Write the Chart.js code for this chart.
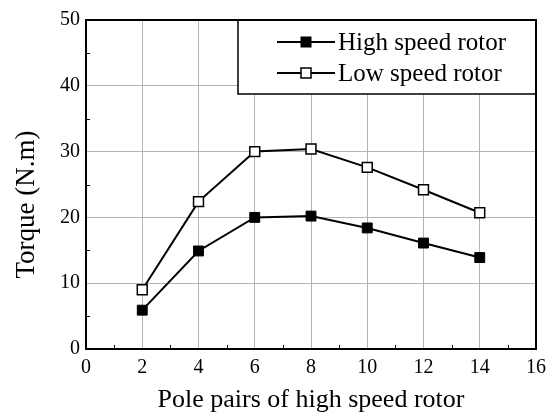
<!DOCTYPE html>
<html>
<head>
<meta charset="utf-8">
<script src="https://cdn.jsdelivr.net/npm/chart.js@4.4.1/dist/chart.umd.min.js"></script>
<style>
  html, body { margin: 0; padding: 0; background: #fff; }
  canvas { display: block; }
</style>
</head>
<body>
<canvas id="torqueChart" width="558" height="416"></canvas>
<script>
const polePairs = [2, 4, 6, 8, 10, 12, 14];
const highSpeed = [5.9, 14.9, 20.0, 20.2, 18.4, 16.1, 13.9];
const lowSpeed = [9.0, 22.4, 30.0, 30.4, 27.6, 24.2, 20.7];
const seriesNames = ["High speed rotor", "Low speed rotor"];
const xTicks = [0, 2, 4, 6, 8, 10, 12, 14, 16];
const yTicks = [0, 10, 20, 30, 40, 50];
const yTitle = "Torque (N.m)";

const serif = "'Liberation Serif', 'Times New Roman', serif";

const toPoints = function(values) {
  return polePairs.map(function(p, i) { return { x: p, y: values[i] }; });
};

// frame, inward minor ticks, y title and the boxed legend
const decorations = {
  id: "decorations",
  afterDraw: function(chart) {
    const ctx = chart.ctx;
    const area = chart.chartArea;
    const xs = chart.scales.x;
    const ys = chart.scales.y;
    ctx.save();
    ctx.strokeStyle = "#000";
    ctx.lineWidth = 1;
    for (let v = 1; v < 16; v += 2) {
      const px = Math.round(xs.getPixelForValue(v)) + 0.5;
      ctx.beginPath();
      ctx.moveTo(px, area.bottom);
      ctx.lineTo(px, area.bottom - 4);
      ctx.stroke();
    }
    for (let v = 5; v < 50; v += 10) {
      const py = Math.round(ys.getPixelForValue(v)) + 0.5;
      ctx.beginPath();
      ctx.moveTo(area.left, py);
      ctx.lineTo(area.left + 4, py);
      ctx.stroke();
    }

    // y axis title, sits a bit below the middle of the plot like the original
    ctx.save();
    ctx.translate(27, (area.top + area.bottom) / 2 + 20);
    ctx.rotate(-Math.PI / 2);
    ctx.font = "27px " + serif;
    ctx.fillStyle = "#000";
    ctx.textAlign = "center";
    ctx.textBaseline = "middle";
    ctx.fillText(yTitle, 0, 0);
    ctx.restore();

    // legend box
    const boxW = 298, boxH = 74;
    const bx = area.right - boxW, by = area.top;
    ctx.fillStyle = "#fff";
    ctx.fillRect(bx, by, boxW, boxH);
    ctx.lineWidth = 1.5;
    ctx.strokeRect(bx, by, boxW, boxH);

    ctx.font = "25px " + serif;
    ctx.textBaseline = "middle";
    ctx.textAlign = "left";
    chart.data.datasets.forEach(function(ds, i) {
      const cy = by + 22 + i * 31;
      ctx.strokeStyle = ds.borderColor;
      ctx.lineWidth = ds.borderWidth;
      ctx.beginPath();
      ctx.moveTo(bx + 39, cy);
      ctx.lineTo(bx + 97, cy);
      ctx.stroke();
      ctx.fillStyle = ds.pointBackgroundColor;
      ctx.fillRect(bx + 63, cy - 5, 10, 10);
      ctx.lineWidth = ds.pointBorderWidth;
      ctx.strokeRect(bx + 63, cy - 5, 10, 10);
      ctx.fillStyle = "#000";
      ctx.fillText(ds.label, bx + 100, cy + 1);
    });

    // outer frame
    ctx.strokeStyle = "#000";
    ctx.lineWidth = 2;
    ctx.strokeRect(area.left, area.top, area.right - area.left, area.bottom - area.top);
    ctx.restore();
  }
};

const context = document.getElementById("torqueChart").getContext("2d");
const chart = new Chart(context, {
  type: "line",
  data: {
    datasets: [{
      label: seriesNames[0],
      data: toPoints(highSpeed),
      borderColor: "#000",
      borderWidth: 2,
      pointStyle: "rect",
      pointRadius: 7,
      pointBackgroundColor: "#000",
      pointBorderColor: "#000",
      pointBorderWidth: 1,
      tension: 0
    }, {
      label: seriesNames[1],
      data: toPoints(lowSpeed),
      borderColor: "#000",
      borderWidth: 2,
      pointStyle: "rect",
      pointRadius: 7,
      pointBackgroundColor: "#fff",
      pointBorderColor: "#000",
      pointBorderWidth: 1.5,
      tension: 0
    }]
  },
  options: {
    responsive: false,
    animation: false,
    layout: { padding: { top: 20, right: 22, left: 0, bottom: 0 } },
    plugins: {
      legend: { display: false },
      tooltip: { enabled: false }
    },
    scales: {
      x: {
        type: "linear",
        min: 0,
        max: 16,
        afterBuildTicks: function(scale) {
          scale.ticks = xTicks.map(function(v) { return { value: v }; });
        },
        afterFit: function(scale) { scale.height = 67; },
        grid: { color: "#b4b4b4", lineWidth: 1, drawTicks: false },
        border: { color: "#000", width: 2 },
        ticks: {
          padding: 7,
          color: "#000",
          font: { family: serif, size: 20 },
          maxRotation: 0
        },
        title: {
          display: true,
          text: "Pole pairs of high speed rotor",
          color: "#000",
          font: { family: serif, size: 26 },
          padding: { top: 0, bottom: 0 }
        }
      },
      y: {
        type: "linear",
        min: 0,
        max: 50,
        afterBuildTicks: function(scale) {
          scale.ticks = yTicks.map(function(v) { return { value: v }; });
        },
        afterFit: function(scale) { scale.width = 86; },
        grid: { color: "#b4b4b4", lineWidth: 1, drawTicks: false },
        border: { color: "#000", width: 2 },
        ticks: {
          padding: 6,
          color: "#000",
          font: { family: serif, size: 20 }
        },
        title: { display: false }
      }
    }
  },
  plugins: [decorations]
});
</script>
</body>
</html>
